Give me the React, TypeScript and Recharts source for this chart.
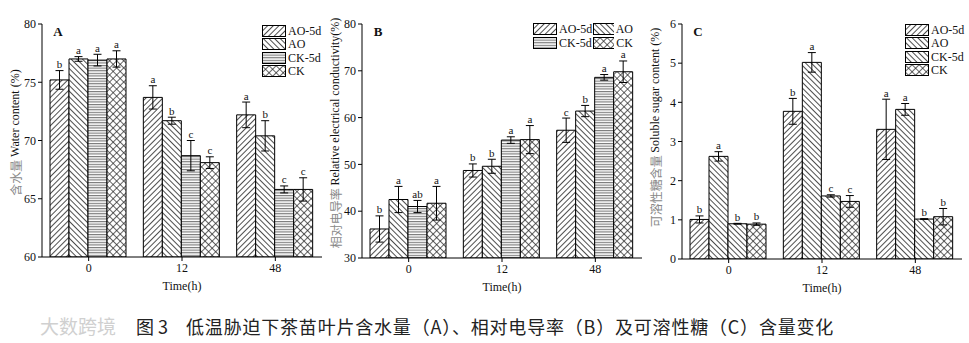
import React from 'react';
import { BarChart, Bar, XAxis, YAxis, ErrorBar, LabelList, Legend, Label } from 'recharts';

// categories
const times = ['0', '12', '48'];
const seriesNames = ['AO-5d', 'AO', 'CK-5d', 'CK'];

// A: water content (%)
const waterAO5d = [75.2, 73.7, 72.2];
const waterAO = [77.0, 71.7, 70.4];
const waterCK5d = [76.9, 68.7, 65.8];
const waterCK = [77.0, 68.1, 65.8];
const waterAO5dErr = [0.8, 1.0, 1.1];
const waterAOErr = [0.2, 0.3, 1.3];
const waterCK5dErr = [0.5, 1.3, 0.3];
const waterCKErr = [0.7, 0.5, 1.0];
const waterAO5dSig = ['b', 'a', 'a'];
const waterAOSig = ['a', 'b', 'b'];
const waterCK5dSig = ['a', 'c', 'c'];
const waterCKSig = ['a', 'c', 'c'];

// B: relative electrical conductivity (%)
const condAO5d = [36.2, 48.7, 57.3];
const condAO = [42.5, 49.6, 61.4];
const condCK5d = [41.0, 55.2, 68.6];
const condCK = [41.7, 55.3, 69.8];
const condAO5dErr = [2.8, 1.4, 2.6];
const condAOErr = [2.8, 1.5, 1.2];
const condCK5dErr = [1.3, 0.7, 0.6];
const condCKErr = [3.6, 3.0, 2.3];
const condAO5dSig = ['b', 'b', 'c'];
const condAOSig = ['a', 'b', 'b'];
const condCK5dSig = ['ab', 'a', 'a'];
const condCKSig = ['a', 'a', 'a'];

// C: soluble sugar content (%)
const sugarAO5d = [1.01, 3.77, 3.31];
const sugarAO = [2.62, 5.02, 3.82];
const sugarCK5d = [0.9, 1.61, 1.02];
const sugarCK = [0.89, 1.47, 1.08];
const sugarAO5dErr = [0.09, 0.33, 0.77];
const sugarAOErr = [0.12, 0.25, 0.15];
const sugarCK5dErr = [0.01, 0.03, 0.01];
const sugarCKErr = [0.03, 0.15, 0.21];
const sugarAO5dSig = ['b', 'b', 'a'];
const sugarAOSig = ['a', 'a', 'a'];
const sugarCK5dSig = ['b', 'c', 'b'];
const sugarCKSig = ['b', 'c', 'b'];

const serif = '"Liberation Serif", "Times New Roman", serif';
const cjk = '"Noto Sans CJK SC", sans-serif';

const keys = ['s0', 's1', 's2', 's3'];

function buildRows(vals: number[][], errs: number[][]) {
  return times.map((t, i) => {
    const row: any = { time: t };
    keys.forEach((k, j) => {
      row[k] = vals[j][i];
      row[k + 'Err'] = errs[j][i];
    });
    return row;
  });
}

const Patterns = ({ p }: { p: string }) => (
  <defs>
    <pattern id={`${p}-fwd`} patternUnits="userSpaceOnUse" width="4" height="4" patternTransform="rotate(45)">
      <rect width="4" height="4" fill="#fff" />
      <line x1="0.5" y1="0" x2="0.5" y2="4" stroke="#222" strokeWidth="0.8" />
    </pattern>
    <pattern id={`${p}-back`} patternUnits="userSpaceOnUse" width="4" height="4" patternTransform="rotate(-45)">
      <rect width="4" height="4" fill="#fff" />
      <line x1="0.5" y1="0" x2="0.5" y2="4" stroke="#222" strokeWidth="0.8" />
    </pattern>
    <pattern id={`${p}-horiz`} patternUnits="userSpaceOnUse" width="4" height="2.6">
      <rect width="4" height="2.6" fill="#fff" />
      <line x1="0" y1="0.6" x2="4" y2="0.6" stroke="#666" strokeWidth="1" />
    </pattern>
    <pattern id={`${p}-cross`} patternUnits="userSpaceOnUse" width="5" height="5" patternTransform="rotate(45)">
      <rect width="5" height="5" fill="#fff" />
      <line x1="0.5" y1="0" x2="0.5" y2="5" stroke="#222" strokeWidth="0.7" />
      <line x1="0" y1="0.5" x2="5" y2="0.5" stroke="#222" strokeWidth="0.7" />
    </pattern>
  </defs>
);

const sigLabel = (errs: number[], sig: string[], min: number) => (props: any) => {
  const vb = props.viewBox || {};
  const x = props.x ?? vb.x;
  const y = props.y ?? vb.y;
  const width = props.width ?? vb.width;
  const height = props.height ?? vb.height;
  const value = Number(props.value);
  const idx = props.index;
  const k = height / (value - min);
  const top = y - errs[idx] * k;
  return (
    <text x={x + width / 2} y={top - 2.5} textAnchor="middle" fontSize={11} fontFamily={serif} fill="#111">
      {sig[idx]}
    </text>
  );
};

interface PanelProps {
  id: string;
  letter: string;
  left: number;
  width: number;
  bottom: number;
  domain: [number, number];
  ticks: number[];
  vals: number[][];
  errs: number[][];
  sigs: string[][];
  fills: string[];
  cnLabel: string;
  enLabel: string;
  labelShift: number;
  legend: 'col' | 'grid';
  legendPos: { left: number; top: number };
}

function Panel(p: PanelProps) {
  const rows = buildRows(p.vals, p.errs);
  const legendContent = () => {
    const items = seriesNames.map((n, j) => (
      <div key={n} style={{ display: 'flex', alignItems: 'center', height: p.legend === 'col' ? 13.5 : 13 }}>
        <svg width={24} height={12} style={{ display: 'block' }}>
          <rect x={0.5} y={0.5} width={23} height={11} fill={`url(#${p.id}-${p.fills[j]})`} stroke="#000" strokeWidth={1} />
        </svg>
        <span style={{ fontFamily: serif, fontSize: 12, marginLeft: 2, lineHeight: '12px', color: '#111' }}>{n}</span>
      </div>
    ));
    if (p.legend === 'grid') {
      return (
        <div style={{ display: 'grid', gridTemplateColumns: '60px 40px', rowGap: 1 }}>{items}</div>
      );
    }
    return <div>{items}</div>;
  };
  return (
    <div style={{ position: 'absolute', left: p.left, top: 0 }}>
      <BarChart
        width={p.width}
        height={300}
        data={rows}
        margin={{ top: 24, right: p.width - 322, left: 0, bottom: 0 }}
        barCategoryGap={8}
        barGap={0}
      >
        <Patterns p={p.id} />
        <XAxis
          dataKey="time"
          height={300 - p.bottom}
          tick={{ fontFamily: serif, fontSize: 12, fill: '#111' }}
          tickSize={4}
          tickLine={{ stroke: '#000' }}
          axisLine={{ stroke: '#000' }}
        >
          <Label
            content={(lp: any) => {
              const vb = lp.viewBox;
              return (
                <text x={vb.x + vb.width / 2} y={vb.y + 33} textAnchor="middle" fontFamily={serif} fontSize={12} fill="#111">
                  Time(h)
                </text>
              );
            }}
          />
        </XAxis>
        <YAxis
          width={42}
          domain={p.domain}
          ticks={p.ticks}
          allowDataOverflow
          tick={{ fontFamily: serif, fontSize: 12, fill: '#111' }}
          tickSize={4}
          tickLine={{ stroke: '#000' }}
          axisLine={{ stroke: '#000' }}
        >
          <Label
            content={(lp: any) => {
              const vb = lp.viewBox;
              const cx = vb.x + 15;
              const cy = vb.y + vb.height / 2 + p.labelShift;
              return (
                <text
                  x={cx}
                  y={cy}
                  textAnchor="middle"
                  dominantBaseline="central"
                  transform={`rotate(-90, ${cx}, ${cy})`}
                  fontSize={12}
                  fontFamily={serif}
                  fill="#111"
                >
                  <tspan fontFamily={cjk} fill="#888">{p.cnLabel} </tspan>
                  <tspan>{p.enLabel}</tspan>
                </text>
              );
            }}
          />
        </YAxis>
        <Legend
          layout="vertical"
          align="center"
          verticalAlign="middle"
          wrapperStyle={{ left: p.legendPos.left, top: p.legendPos.top, width: 'auto', height: 'auto' }}
          content={legendContent}
        />
        {keys.map((k, j) => (
          <Bar
            key={k}
            dataKey={k}
            name={seriesNames[j]}
            fill={`url(#${p.id}-${p.fills[j]})`}
            stroke="#000"
            strokeWidth={1}
            isAnimationActive={false}
          >
            <ErrorBar dataKey={k + 'Err'} width={4} stroke="#000" strokeWidth={1} direction="y" />
            <LabelList dataKey={k} content={sigLabel(p.errs[j], p.sigs[j], p.domain[0])} />
          </Bar>
        ))}
        <text x={58} y={36} textAnchor="middle" fontFamily={serif} fontWeight="bold" fontSize={13} fill="#111">
          {p.letter}
        </text>
      </BarChart>
    </div>
  );
}

export default function App() {
  return (
    <div style={{ position: 'absolute', left: 0, top: 0, width: 969, height: 343, background: '#fff', overflow: 'hidden' }}>
      <Panel
        id="pa"
        letter="A"
        left={0}
        width={330}
        bottom={257}
        domain={[60, 80]}
        ticks={[60, 65, 70, 75, 80]}
        vals={[waterAO5d, waterAO, waterCK5d, waterCK]}
        errs={[waterAO5dErr, waterAOErr, waterCK5dErr, waterCKErr]}
        sigs={[waterAO5dSig, waterAOSig, waterCK5dSig, waterCKSig]}
        fills={['fwd', 'back', 'horiz', 'cross']}
        cnLabel="含水量"
        enLabel="Water content (%)"
        labelShift={-8}
        legend="col"
        legendPos={{ left: 262, top: 24 }}
      />
      <Panel
        id="pb"
        letter="B"
        left={320}
        width={330}
        bottom={258}
        domain={[30, 80]}
        ticks={[30, 40, 50, 60, 70, 80]}
        vals={[condAO5d, condAO, condCK5d, condCK]}
        errs={[condAO5dErr, condAOErr, condCK5dErr, condCKErr]}
        sigs={[condAO5dSig, condAOSig, condCK5dSig, condCKSig]}
        fills={['fwd', 'back', 'horiz', 'cross']}
        cnLabel="相对电导率"
        enLabel="Relative electrical conductivity(%)"
        labelShift={-8}
        legend="grid"
        legendPos={{ left: 213, top: 22 }}
      />
      <Panel
        id="pc"
        letter="C"
        left={640}
        width={329}
        bottom={259}
        domain={[0, 6]}
        ticks={[0, 1, 2, 3, 4, 5, 6]}
        vals={[sugarAO5d, sugarAO, sugarCK5d, sugarCK]}
        errs={[sugarAO5dErr, sugarAOErr, sugarCK5dErr, sugarCKErr]}
        sigs={[sugarAO5dSig, sugarAOSig, sugarCK5dSig, sugarCKSig]}
        fills={['fwd', 'back', 'back', 'cross']}
        cnLabel="可溶性糖含量"
        enLabel="Soluble sugar content (%)"
        labelShift={-14}
        legend="col"
        legendPos={{ left: 265, top: 23 }}
      />
      <div
        style={{
          position: 'absolute',
          left: 40,
          top: 314,
          fontFamily: cjk,
          fontSize: 19,
          color: '#d0d0d0',
          lineHeight: '24px',
        }}
      >
        大数跨境
      </div>
      <div
        style={{
          position: 'absolute',
          left: 136,
          top: 314,
          fontFamily: cjk,
          fontSize: 18,
          color: '#222',
          lineHeight: '24px',
          whiteSpace: 'nowrap',
        }}
      >
        <span style={{ marginRight: 18 }}>图 3</span>
        <span style={{ letterSpacing: 0.8 }}>低温胁迫下茶苗叶片含水量（A）、相对电导率（B）及可溶性糖（C）含量变化</span>
      </div>
    </div>
  );
}
